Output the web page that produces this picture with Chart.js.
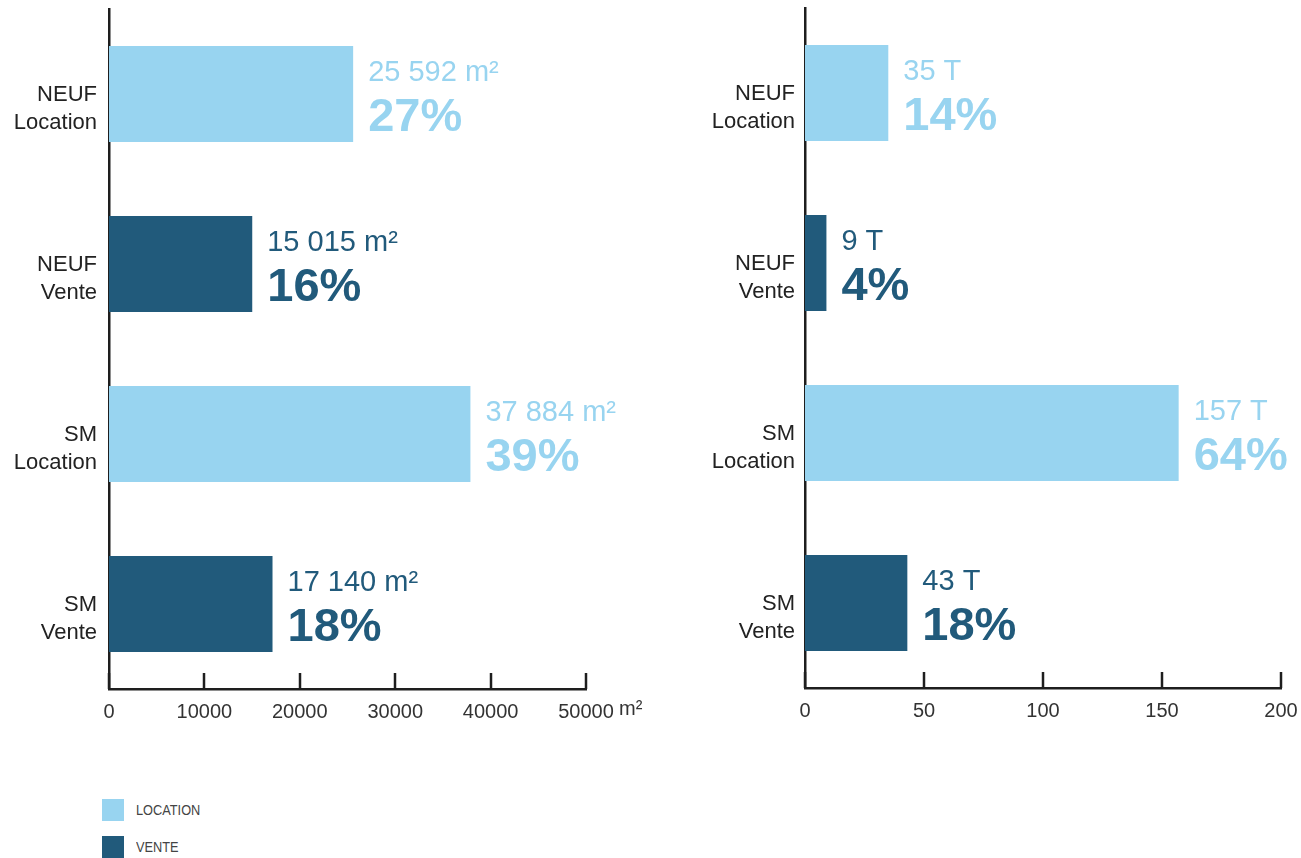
<!DOCTYPE html>
<html>
<head>
<meta charset="utf-8">
<script src="https://cdn.jsdelivr.net/npm/chart.js@4.4.1/dist/chart.umd.min.js"></script>
<style>
  body { margin: 0; background: #fff; width: 1301px; height: 858px; position: relative; overflow: hidden; }
  canvas { position: absolute; top: 0; }
  #surface { left: 0; }
  #tonnage { left: 650px; }
  .legend { position: absolute; left: 102px; font-family: "Liberation Sans", Arial, sans-serif; font-size: 14.5px; color: #444; }
  .legend span.sw { position: absolute; left: 0; top: 0; width: 22px; height: 22px; }
  .legend span.tx { position: absolute; left: 34px; top: 3px; white-space: nowrap; transform: scaleX(0.88); transform-origin: left center; }
</style>
</head>
<body>
<canvas id="surface" width="650" height="760"></canvas>
<canvas id="tonnage" width="651" height="760"></canvas>
<div class="legend" style="top:799px"><span class="sw" style="background:#98D4F0"></span><span class="tx">LOCATION</span></div>
<div class="legend" style="top:836px"><span class="sw" style="background:#215A7B"></span><span class="tx">VENTE</span></div>
<script>
/* data */
const categories = [['NEUF', 'Location'], ['NEUF', 'Vente'], ['SM', 'Location'], ['SM', 'Vente']];
const surfaceM2   = [25592, 15015, 37884, 17140];
const surfacePct  = [27, 16, 39, 18];
const tonnageT    = [35, 9, 157, 43];
const tonnagePct  = [14, 4, 64, 18];
const surfaceTicks = [0, 10000, 20000, 30000, 40000, 50000];
const tonnageTicks = [0, 50, 100, 150, 200];

const LIGHT = '#98D4F0', DARK = '#215A7B', INK = '#1E1E1E';
const barColors = [LIGHT, DARK, LIGHT, DARK];
const FONT = '"Liberation Sans", Arial, sans-serif';

const fmtThousands = n => String(n).replace(/\B(?=(\d{3})+(?!\d))/g, ' ');

/* value + percent next to each bar, ticks pointing up, axis unit */
const barNotes = {
  id: 'barNotes',
  afterDatasetsDraw(chart, args, opts) {
    const ctx = chart.ctx;
    const meta = chart.getDatasetMeta(0);
    const xs = chart.scales.x;
    const area = chart.chartArea;
    ctx.save();

    // tick marks inside the plot
    ctx.strokeStyle = INK;
    ctx.lineWidth = 2.5;
    xs.ticks.forEach((t, i) => {
      const px = Math.round(xs.getPixelForTick(i));
      ctx.beginPath();
      ctx.moveTo(px, area.bottom);
      ctx.lineTo(px, area.bottom - 16);
      ctx.stroke();
    });

    ctx.textAlign = 'left';
    ctx.textBaseline = 'middle';
    meta.data.forEach((bar, i) => {
      const top = bar.y - bar.height / 2;
      const x = bar.x + 15;
      ctx.fillStyle = barColors[i];
      ctx.font = '29px ' + FONT;
      ctx.fillText(opts.values[i], x, top + 27);
      ctx.font = 'bold 47px ' + FONT;
      ctx.fillText(opts.pcts[i] + '%', x, top + 72);
    });

    if (opts.unit) {
      const last = xs.ticks.length - 1;
      ctx.fillStyle = '#333';
      ctx.font = '20px ' + FONT;
      ctx.fillText(opts.unit, xs.getPixelForTick(last) + 33, area.bottom + 20);
    }
    ctx.restore();
  }
};

const noPad = s => { s.paddingTop = 0; s.paddingBottom = 0; s.paddingLeft = 0; s.paddingRight = 0; };

function makeChart(id, values, pcts, ticks, labels, unit, layout) {
  return new Chart(document.getElementById(id), {
    type: 'bar',
    data: {
      labels: categories,
      datasets: [{
        data: values,
        backgroundColor: barColors,
        borderWidth: 0,
        categoryPercentage: 1,
        barPercentage: 0.565
      }]
    },
    options: {
      indexAxis: 'y',
      responsive: false,
      animation: false,
      layout: { padding: { top: layout.top, right: layout.right, left: 0, bottom: 0 } },
      plugins: {
        legend: { display: false },
        tooltip: { enabled: false },
        barNotes: { values: labels, pcts: pcts, unit: unit }
      },
      scales: {
        x: {
          min: ticks[0],
          max: ticks[ticks.length - 1],
          afterBuildTicks: s => { s.ticks = ticks.map(v => ({ value: v })); },
          afterFit: s => { s.height = layout.xh; noPad(s); },
          grid: { display: false },
          border: { display: true, color: INK, width: 2.5 },
          ticks: {
            callback: v => String(v),
            color: '#333',
            padding: 3,
            maxRotation: 0,
            autoSkip: false,
            font: { family: FONT, size: 20 }
          }
        },
        y: {
          afterFit: s => { s.width = layout.yw; noPad(s); },
          grid: { display: false },
          border: { display: true, color: INK, width: 2.5 },
          ticks: {
            color: '#222',
            padding: layout.lp,
            labelOffset: 15,
            font: { family: FONT, size: 22, lineHeight: 1.27 }
          }
        }
      }
    },
    plugins: [barNotes]
  });
}

makeChart('surface', surfaceM2, surfacePct, surfaceTicks,
  surfaceM2.map(v => fmtThousands(v) + ' m²'), 'm²',
  { top: 9, right: 64, xh: 71, yw: 109, lp: 4 });

makeChart('tonnage', tonnageT, tonnagePct, tonnageTicks,
  tonnageT.map(v => v + ' T'), null,
  { top: 8, right: 20, xh: 72, yw: 155, lp: 2 });
</script>
</body>
</html>
